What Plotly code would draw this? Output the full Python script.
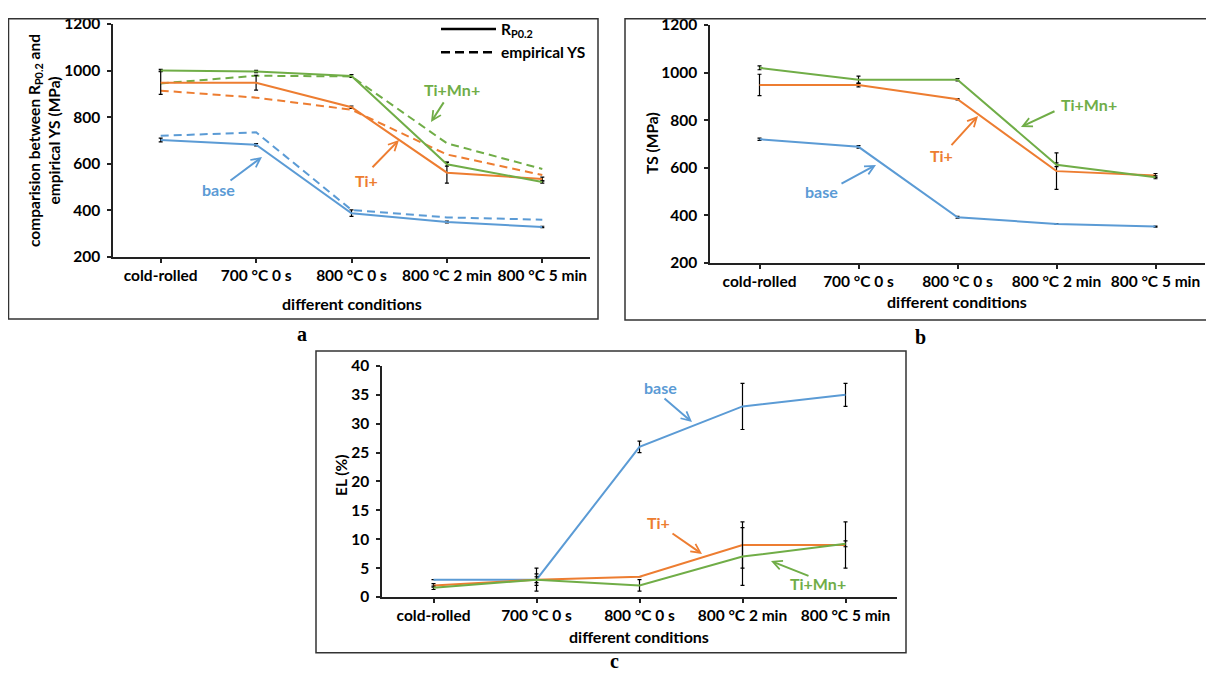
import plotly.graph_objects as go

# figure size; the page adds a margin around it and the shot is squeezed a bit vertically
W, H = 1198, 666
X0 = 8             # picture x of the figure's left edge
Y0, SY = 17, 0.973  # picture y of the figure's top edge, vertical squeeze

cats = ["cold-rolled", "700 °C 0 s", "800 °C 0 s", "800 °C 2 min", "800 °C 5 min"]

# (a) yield strength: measured R_p0.2 (solid) and empirical YS (dashed), MPa
rp_base = [702, 682, 388, 350, 329]
rp_base_err = [8, 5, 14, 4, 3]
rp_ti = [948, 948, 843, 562, 535]
rp_ti_err = [50, 32, 5, 45, 8]
rp_timn = [1000, 996, 977, 598, 522]
rp_timn_err = [5, 5, 6, 8, 5]
ys_base = [720, 735, 402, 370, 360]
ys_ti = [914, 884, 832, 640, 552]
ys_timn = [945, 978, 975, 688, 578]

# (b) tensile strength, MPa
ts_base = [720, 688, 392, 364, 353]
ts_base_err = [5, 5, 4, 2, 2]
ts_ti = [948, 948, 888, 586, 568]
ts_ti_err = [45, 8, 3, 77, 8]
ts_timn = [1020, 970, 970, 613, 560]
ts_timn_err = [8, 15, 5, 8, 6]

# (c) elongation, %
el_base = [3, 3, 26, 33, 35]
el_base_err = [0, 2, 1, 4, 2]
el_ti = [2, 3, 3.5, 9, 9]
el_ti_err = [0.3, 1, 0, 4, 4]
el_timn = [1.6, 3, 2, 7, 9.2]
el_timn_err = [0.3, 0.5, 1, 5, 0.5]

BLUE = "#5B9BD5"
ORANGE = "#ED7D31"
GREEN = "#70AD47"
FONT = "Lato"


def px(x):
    return (x - X0) / W


def py(y):
    # squeeze the strip below y=630 a little so the bottom still fits
    if y > 630:
        y = 630 + (y - 630) * 0.75
    fy = (y - Y0) / SY
    fy = min(max(fy, 0.8), H - 0.8)
    return 1 - fy / H


def bold(size, color="black", family=FONT):
    return dict(family=family, size=size, color=color, weight="bold")


fig = go.Figure()


def add_line(y, err, color, xa, ya, dash="solid"):
    kw = {}
    if err is not None:
        kw["error_y"] = dict(type="data", array=err, color="black", thickness=1.2, width=2)
    fig.add_trace(go.Scatter(
        x=cats, y=y, mode="lines", line=dict(color=color, width=2, dash=dash),
        xaxis=xa, yaxis=ya, showlegend=False, hoverinfo="skip", **kw))


# panel a
add_line(ys_base, None, BLUE, "x", "y", "8px,5px")
add_line(ys_ti, None, ORANGE, "x", "y", "8px,5px")
add_line(ys_timn, None, GREEN, "x", "y", "8px,5px")
add_line(rp_base, rp_base_err, BLUE, "x", "y")
add_line(rp_ti, rp_ti_err, ORANGE, "x", "y")
add_line(rp_timn, rp_timn_err, GREEN, "x", "y")

# legend entries for panel a
fig.add_trace(go.Scatter(x=[None], y=[None], mode="lines", name="R<sub>P0.2</sub>",
                         line=dict(color="black", width=2.5), xaxis="x", yaxis="y"))
fig.add_trace(go.Scatter(x=[None], y=[None], mode="lines", name="empirical YS",
                         line=dict(color="black", width=2.5, dash="9px,5px"),
                         xaxis="x", yaxis="y"))

# panel b
add_line(ts_base, ts_base_err, BLUE, "x2", "y2")
add_line(ts_ti, ts_ti_err, ORANGE, "x2", "y2")
add_line(ts_timn, ts_timn_err, GREEN, "x2", "y2")

# panel c
add_line(el_base, el_base_err, BLUE, "x3", "y3")
add_line(el_ti, el_ti_err, ORANGE, "x3", "y3")
add_line(el_timn, el_timn_err, GREEN, "x3", "y3")

xcommon = dict(type="category", range=[-0.5, 4.5], showgrid=False, zeroline=False,
               showline=True, linecolor="#222", linewidth=1.5,
               ticks="outside", ticklen=4, tickwidth=1.5, tickcolor="#222",
               tickfont=bold(15.5), ticklabelstandoff=0, fixedrange=True)
ycommon = dict(showgrid=False, zeroline=False, showline=True, linecolor="#222",
               linewidth=1.5, ticks="outside", ticklen=4, tickwidth=1.5,
               tickcolor="#222", tickfont=bold(15.5), ticklabelstandoff=4,
               fixedrange=True)

fig.update_layout(
    width=W, height=H, margin=dict(l=0, r=0, t=0, b=0),
    paper_bgcolor="white", plot_bgcolor="white",
    xaxis=dict(xcommon, domain=[px(113), px(590)], anchor="y"),
    yaxis=dict(ycommon, domain=[py(256), py(23)], range=[200, 1200], dtick=200, anchor="x"),
    xaxis2=dict(xcommon, domain=[px(710), px(1205)], anchor="y2"),
    yaxis2=dict(ycommon, domain=[py(262), py(24)], range=[200, 1200], dtick=200, anchor="x2"),
    xaxis3=dict(xcommon, domain=[px(382), px(897)], anchor="y3"),
    yaxis3=dict(ycommon, domain=[py(596), py(365)], range=[0, 40], dtick=5, anchor="x3"),
    legend=dict(x=px(436), y=py(40), xanchor="left", yanchor="middle",
                bgcolor="rgba(0,0,0,0)", font=bold(15.5), tracegroupgap=0,
                itemwidth=55),
    showlegend=True,
)

# panel frames
frames = [(8.5, 7, 598, 318), (625, 8, 1210, 319), (316, 350, 906, 659)]
for x0, y0, x1, y1 in frames:
    fig.add_shape(type="rect", xref="paper", yref="paper",
                  x0=px(x0), x1=px(x1), y0=py(y1), y1=py(y0),
                  line=dict(color="#333", width=1.5))

ann = []
# axis titles
ann.append(dict(x=px(44), y=py(140), textangle=-90,
                text="comparision between R<sub>P0.2</sub> and<br>empirical YS (MPa)",
                font=bold(15.5)))
ann.append(dict(x=px(652), y=py(142), textangle=-90, text="TS (MPa)", font=bold(15.5)))
ann.append(dict(x=px(341), y=py(475), textangle=-90, text="EL (%)", font=bold(15.5)))
ann.append(dict(x=px(352), y=py(303), text="different conditions", font=bold(16)))
ann.append(dict(x=px(957), y=py(301), text="different conditions", font=bold(16)))
ann.append(dict(x=px(639), y=py(638), text="different conditions", font=bold(16)))
# panel letters
for letter, x, y in [("a", 302, 333), ("b", 921, 336), ("c", 614, 670)]:
    ann.append(dict(x=px(x), y=py(y), text=letter, font=bold(20, family="Liberation Serif")))

# series labels with arrows: (text, color, text pos, arrow tail, arrow head)
labels = [
    ("Ti+Mn+", GREEN, (452, 89), (445, 100), (431, 121)),
    ("Ti+", ORANGE, (366, 180), (371, 167), (399, 139)),
    ("base", BLUE, (218, 189), (229, 180), (262, 156)),
    ("Ti+Mn+", GREEN, (1089, 104), (1056, 110), (1021, 126)),
    ("Ti+", ORANGE, (941, 155), (950, 145), (978, 115)),
    ("base", BLUE, (822, 191), (840, 183), (876, 164)),
    ("base", BLUE, (660, 387), (663, 397), (692, 421)),
    ("Ti+", ORANGE, (658, 522), (671, 532), (702, 553)),
    ("Ti+Mn+", GREEN, (818, 583), (810, 575), (771, 560)),
]
for text, color, (tx, ty), (ax, ay), (hx, hy) in labels:
    ann.append(dict(x=px(tx), y=py(ty), text=text, font=bold(16, color)))
    # arrow offsets are in figure pixels, so undo the vertical squeeze
    ann.append(dict(x=px(hx), y=py(hy), text=" ", font=dict(size=1), showarrow=True,
                    ax=ax - hx, ay=(ay - hy) / SY, arrowhead=5, arrowsize=0.9,
                    arrowwidth=2, arrowcolor=color))

for a in ann:
    a.setdefault("xref", "paper")
    a.setdefault("yref", "paper")
    a.setdefault("xanchor", "center")
    a.setdefault("yanchor", "middle")
    a.setdefault("showarrow", False)
    fig.add_annotation(**a)

fig.write_html("out.html")
